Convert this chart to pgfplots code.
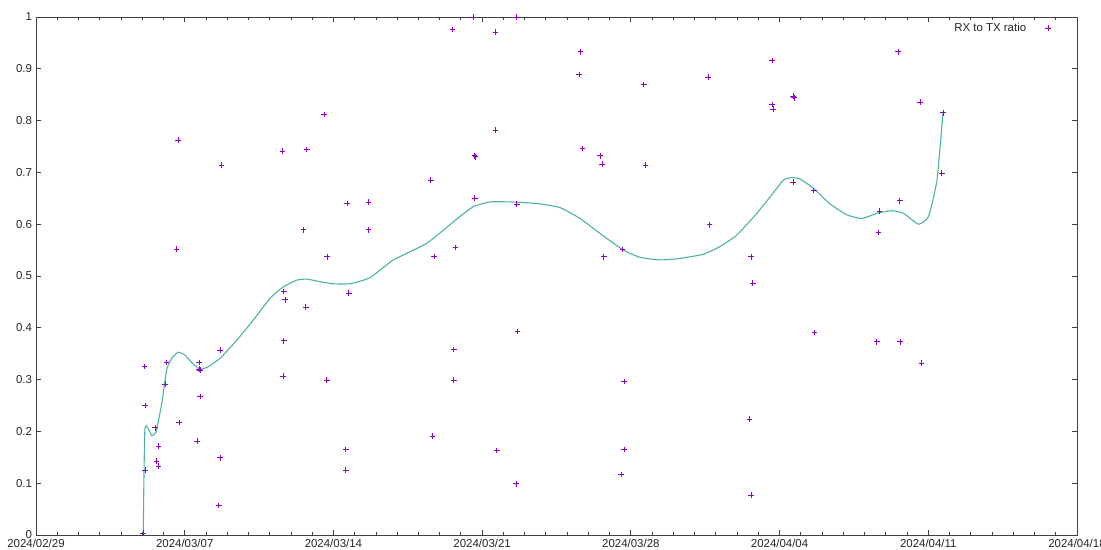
\documentclass[border=0pt]{standalone}
\usepackage{fontspec}
\setmainfont{Liberation Sans}
\usepackage{pgfplots}
\pgfplotsset{compat=1.18}
\definecolor{ptcol}{HTML}{9400D3}
\definecolor{curvecol}{HTML}{4DB3A6}
\definecolor{axcol}{HTML}{404040}
\begin{document}
\fontsize{11.5}{13}\selectfont
\begin{tikzpicture}
\begin{axis}[
  at={(0,0)}, anchor=south west,
  scale only axis, width=1041bp, height=518bp,
  xmin=0, xmax=49, ymin=0, ymax=1,
  xtick={0,7,14,21,28,35,42,49},
  xticklabels={2024/02/29,2024/03/07,2024/03/14,2024/03/21,2024/03/28,2024/04/04,2024/04/11,2024/04/18},
  minor x tick num=6,
  ytick={0,0.1,0.2,0.3,0.4,0.5,0.6,0.7,0.8,0.9,1},
  tick align=inside, major tick length=5bp, minor tick length=3bp,
  axis line style={draw=axcol, line width=0.8bp},
  every tick/.style={axcol, line width=0.8bp},
  tick label style={font=\fontsize{11.5}{13}\selectfont, text=black!85},
  /pgf/number format/assume math mode=true,
  legend plot pos=right,
  legend style={at={(1,1)}, anchor=north east, draw=none, fill=none,
    xshift=-23bp, yshift=-2bp, font=\fontsize{11.5}{13}\selectfont, text=black!85},
]
\addplot[only marks, mark=+, mark size=2.8bp, ptcol, line width=0.8bp] coordinates {
(5.10,0.325) (5.13,0.250) (5.13,0.125) (5.05,0.004) (5.60,0.207) (5.76,0.172)
(5.68,0.143) (5.76,0.133) (6.07,0.291) (6.15,0.333) (6.62,0.552) (6.69,0.762)
(6.73,0.217) (7.59,0.181) (7.67,0.333) (7.67,0.320) (7.72,0.318) (7.72,0.267)
(8.60,0.057) (8.66,0.149) (8.66,0.357) (8.74,0.714) (11.60,0.741) (11.66,0.470)
(11.72,0.454) (11.66,0.375) (11.64,0.307) (12.60,0.589) (12.70,0.440) (12.75,0.744)
(13.57,0.812) (13.69,0.299) (13.71,0.537) (14.58,0.165) (14.58,0.125) (14.64,0.640)
(14.72,0.467) (15.66,0.643) (15.66,0.589) (18.58,0.685) (18.66,0.191) (18.74,0.538)
(19.60,0.976) (19.67,0.358) (19.67,0.299) (19.74,0.555) (20.57,1.000) (20.64,0.732)
(20.68,0.730) (20.65,0.650) (21.62,0.971) (21.62,0.782) (21.69,0.163) (22.60,1.000)
(22.63,0.639) (22.66,0.393) (22.60,0.099) (25.56,0.889) (25.63,0.933) (25.72,0.746)
(26.55,0.732) (26.65,0.716) (26.73,0.537) (27.54,0.117) (27.60,0.551) (27.68,0.296)
(27.68,0.165) (28.61,0.870) (28.69,0.714) (31.64,0.884) (31.70,0.599) (33.58,0.224)
(33.66,0.537) (33.66,0.077) (33.74,0.486) (34.64,0.916) (34.64,0.831) (34.70,0.822)
(35.64,0.847) (35.69,0.844) (35.64,0.681) (36.61,0.665) (36.64,0.391) (39.58,0.373)
(39.66,0.584) (39.70,0.625) (40.58,0.933) (40.66,0.645) (40.68,0.373) (41.62,0.836)
(41.68,0.332) (42.64,0.699) (42.69,0.815)
};
\addlegendentry{RX to TX ratio\hspace*{17bp}}
\addplot[curvecol, line width=1.1bp, smooth, tension=0.3, forget plot] coordinates {
(5.05,0.004) (5.13,0.206) (5.45,0.192) (5.65,0.199) (5.92,0.254) (6.15,0.319)
(6.39,0.341) (6.70,0.353) (7.02,0.347) (7.33,0.333) (7.72,0.320) (8.11,0.325)
(8.66,0.341) (9.45,0.376) (10.23,0.415) (11.02,0.457) (11.64,0.479) (12.27,0.492)
(12.75,0.494) (13.37,0.489) (14.00,0.485) (14.78,0.485) (15.73,0.497) (16.82,0.531)
(18.39,0.563) (19.96,0.615) (20.59,0.634) (21.37,0.643) (22.32,0.643) (23.57,0.640)
(24.67,0.632) (25.61,0.611) (26.55,0.582) (27.65,0.550) (28.44,0.536) (29.38,0.531)
(30.32,0.534) (31.42,0.542) (32.20,0.557) (32.99,0.579) (33.93,0.621) (34.56,0.653)
(35.18,0.685) (35.58,0.690) (35.97,0.687) (36.60,0.669) (37.38,0.639) (38.17,0.618)
(38.88,0.611) (39.58,0.621) (40.29,0.626) (40.83,0.621) (41.54,0.600) (42.01,0.615)
(42.41,0.685) (42.69,0.815)
};
\end{axis}
\pgfresetboundingbox
\useasboundingbox (-36bp,-15bp) rectangle (1065bp,535bp);
\end{tikzpicture}
\end{document}
